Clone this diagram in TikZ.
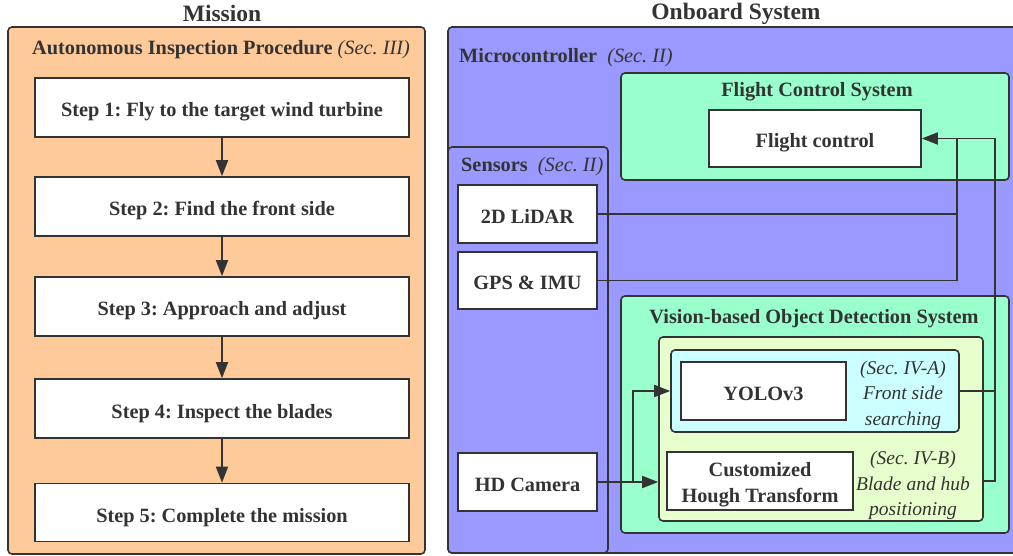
\documentclass[tikz,border=0pt]{standalone}
\usepackage{fontspec}
\setmainfont{Liberation Serif}
\usetikzlibrary{arrows.meta}
\frenchspacing
\definecolor{ln}{HTML}{333333}
\definecolor{orangefill}{HTML}{FFCA99}
\definecolor{bluefill}{HTML}{9999FF}
\definecolor{greenfill}{HTML}{99FFCC}
\definecolor{yelfill}{HTML}{E6FFCC}
\definecolor{cyanfill}{HTML}{CCFFFF}
\tikzset{
  container/.style={draw=ln, line width=1.6pt, rounded corners=4pt, inner sep=0pt},
  wbox/.style={draw=ln, line width=1.6pt, fill=white, inner sep=0pt, text=ln, font=\fontsize{20.3}{25}\selectfont\bfseries, text height=19pt, text depth=0pt},
  wframe/.style={draw=ln, line width=1.6pt, fill=white, inner sep=0pt},
  lbl/.style={text=ln, inner sep=0pt, font=\fontsize{20.3}{25}\selectfont\bfseries},
  mlbl/.style={lbl, align=center, font=\fontsize{20.3}{25.5}\selectfont\bfseries},
  ilbl/.style={text=ln, inner sep=0pt, font=\fontsize{19.5}{25.5}\selectfont\itshape, align=center},
  ttl/.style={text=ln, inner sep=0pt, font=\fontsize{23.5}{28}\selectfont\bfseries},
  conn/.style={draw=ln, line width=1.8pt},
  arr/.style={conn, -{Triangle[length=16pt,width=12pt]}}
}
\begin{document}
\begin{tikzpicture}[x=1pt,y=-1pt]
\useasboundingbox (0,0) rectangle (1013,556);
% titles
\node[ttl] (tmission) at (222,13.5) {Mission};
\node[ttl] (tonboard) at (736,13.5) {Onboard System};
% containers
\node[container, fill=orangefill, minimum width=417, minimum height=527] (mission) at (216.5,290.5) {};
\node[container, fill=bluefill, minimum width=576, minimum height=526] (micro) at (736,290) {};
\node[container, fill=greenfill, minimum width=388, minimum height=107] (fcs) at (815,126.5) {};
\node[container, fill=bluefill, minimum width=160, minimum height=406] (sensors) at (528,350) {};
\node[container, fill=greenfill, minimum width=388, minimum height=237] (vods) at (815,414.5) {};
\node[container, fill=yelfill, minimum width=324, minimum height=184] (yel) at (821,429) {};
\node[container, fill=cyanfill, minimum width=288, minimum height=82] (cyan) at (815,391) {};
% container labels
\node[lbl] (tproc) at (221,49.5) {Autonomous Inspection Procedure \textit{\mdseries(Sec. III)}};
\node[lbl, anchor=west] (tmicro) at (459,57.5) {Microcontroller\ \ \textit{\mdseries(Sec. II)}};
\node[lbl] (tfcs) at (817,91.5) {Flight Control System};
\node[lbl, anchor=west] (tsens) at (461,166.5) {Sensors\ \ \textit{\mdseries(Sec. II)}};
\node[lbl] (tvods) at (814,318.5) {Vision-based Object Detection System};
\node[ilbl] (la) at (903,395) {(Sec. IV-A)\\Front side\\ searching};
\node[ilbl] (lb) at (913,485.5) {(Sec. IV-B)\\Blade and hub\\positioning};
% steps
\node[wbox, minimum width=374, minimum height=59] (s1) at (222,107.5) {Step 1: Fly to the target wind turbine};
\node[wbox, minimum width=374, minimum height=59] (s2) at (222,206.5) {Step 2: Find the front side};
\node[wbox, minimum width=374, minimum height=59] (s3) at (222,306.5) {Step 3: Approach and adjust};
\node[wbox, minimum width=374, minimum height=59] (s4) at (222,408.5) {Step 4: Inspect the blades};
\node[wbox, minimum width=374, minimum height=58] (s5) at (222,512.5) {Step 5: Complete the mission};
% onboard boxes
\node[wbox, minimum width=212, minimum height=57] (fc) at (815,138.5) {Flight control};
\node[wbox, minimum width=139, minimum height=58] (lidar) at (527.5,214) {2D LiDAR};
\node[wbox, minimum width=139, minimum height=57] (gps) at (527.5,280.5) {GPS \& IMU};
\node[wbox, minimum width=139, minimum height=58] (cam) at (527.5,482) {HD Camera};
\node[wbox, minimum width=165, minimum height=58] (yolo) at (763.5,391) {YOLOv3};
\node[wframe, minimum width=186, minimum height=58] (hough) at (760,481) {};
\node[mlbl] (though) at (760,484.5) {Customized\\Hough Transform};
% step arrows
\draw[arr] (s1) -- (s2);
\draw[arr] (s2) -- (s3);
\draw[arr] (s3) -- (s4);
\draw[arr] (s4) -- (s5);
% sensor connectors
\coordinate (j1) at (957,138.5);
\coordinate (j2) at (995,138.5);
\coordinate (br) at (633,482);
\draw[conn] (lidar.east) -| (j1);
\draw[conn] (gps.east) -| (j1);
\draw[conn] (yel.east |- hough.east) -| (j2);
\draw[arr] (cyan.east) -| (j2) -- (fc.east);
\draw[arr] (cam.east) -- (yel.west |- cam.east);
\draw[arr] (br) |- (cyan.west);
\end{tikzpicture}
\end{document}
